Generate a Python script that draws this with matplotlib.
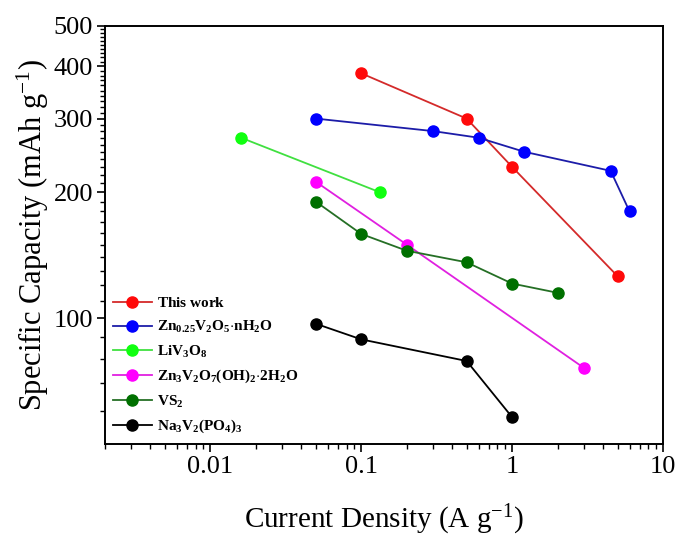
import numpy as np
import matplotlib
matplotlib.use("Agg")
import matplotlib.pyplot as plt
from matplotlib.ticker import FixedLocator, LogLocator, NullFormatter, FuncFormatter

# fonts: Times-like serif everywhere, also inside math text
plt.rcParams['font.family'] = ['Liberation Serif', 'DejaVu Serif']
plt.rcParams['mathtext.fontset'] = 'custom'
plt.rcParams['mathtext.rm'] = 'Liberation Serif'
plt.rcParams['mathtext.it'] = 'Liberation Serif:italic'
plt.rcParams['mathtext.bf'] = 'Liberation Serif:bold'
plt.rcParams['mathtext.default'] = 'regular'

# data (current density A/g, capacity mAh/g)
cur_this = [0.1, 0.5, 1, 5]
cap_this = [385, 300, 230, 126]
cur_zn = [0.05, 0.3, 0.6, 1.2, 4.5, 6]
cap_zn = [300, 280, 270, 250, 225, 180]
cur_liv = [0.016, 0.133]
cap_liv = [270, 200]
cur_znoh = [0.05, 0.2, 3]
cap_znoh = [212, 150, 76]
cur_vs2 = [0.05, 0.1, 0.2, 0.5, 1, 2]
cap_vs2 = [190, 159, 145, 136, 121, 115]
cur_nvp = [0.05, 0.1, 0.5, 1]
cap_nvp = [97, 89, 79, 58]

labels = [r'$\mathbf{This\ work}$',
          r'$\mathbf{Zn_{0.25}V_2O_5{\cdot}nH_2O}$',
          r'$\mathbf{LiV_3O_8}$',
          r'$\mathbf{Zn_3V_2O_7(OH)_2{\cdot}2H_2O}$',
          r'$\mathbf{VS_2}$',
          r'$\mathbf{Na_3V_2(PO_4)_3}$']
y_ticks = [100, 200, 300, 400, 500]
x_ticks = [0.01, 0.1, 1, 10]
x_ticklabels = ['0.01', '0.1', '1', '10']

# (x, y, line colour, marker colour)
series = [(cur_this, cap_this, '#d42a2a', '#ff0a0a'),
          (cur_zn, cap_zn, '#1c1ca8', '#0000ff'),
          (cur_liv, cap_liv, '#40e040', '#10ff10'),
          (cur_znoh, cap_znoh, '#e020e0', '#ff00ff'),
          (cur_vs2, cap_vs2, '#256f25', '#007000'),
          (cur_nvp, cap_nvp, '#000000', '#000000')]

fig = plt.figure(figsize=(6.8, 5.37), dpi=100)
ax = fig.add_axes([0.154, 0.173, 0.821, 0.779])

for (x, y, lc, mc), lab in zip(series, labels):
    ax.plot(x, y, '-o', color=lc, mfc=mc, mec=mc, lw=1.3, ms=8, label=lab)

ax.set_xscale('log')
ax.set_yscale('log')
ax.set_xlim(0.002, 10)
ax.set_ylim(50, 500)

ax.yaxis.set_major_locator(FixedLocator(y_ticks))
ax.yaxis.set_major_formatter(FuncFormatter(lambda v, p: '%d' % v))
ax.yaxis.set_minor_locator(FixedLocator(np.arange(60, 500, 10)))
ax.yaxis.set_minor_formatter(NullFormatter())

ax.xaxis.set_major_locator(FixedLocator(x_ticks))
ax.xaxis.set_major_formatter(FuncFormatter(lambda v, p: x_ticklabels[x_ticks.index(v)] if v in x_ticks else ''))
ax.xaxis.set_minor_locator(LogLocator(base=10, subs=np.arange(2, 10), numticks=50))
ax.xaxis.set_minor_formatter(NullFormatter())

ax.tick_params(which='major', direction='out', length=5.5, width=1.2, labelsize=19, pad=3)
ax.tick_params(which='minor', direction='out', length=3.5, width=1.0)
for s in ax.spines.values():
    s.set_linewidth(1.4)

ax.set_xlabel(r'Current Density (A g$^{-1}$)', fontsize=21, labelpad=18)
ax.set_ylabel(r'Specific Capacity (mAh g$^{-1}$)', fontsize=22, labelpad=2)

ax.legend(loc='lower left', bbox_to_anchor=(-0.005, -0.005), frameon=False,
          fontsize=11, handlelength=2.6, handletextpad=0.3, labelspacing=0.55,
          borderaxespad=0.3)

fig.savefig('out.png', dpi=100)
